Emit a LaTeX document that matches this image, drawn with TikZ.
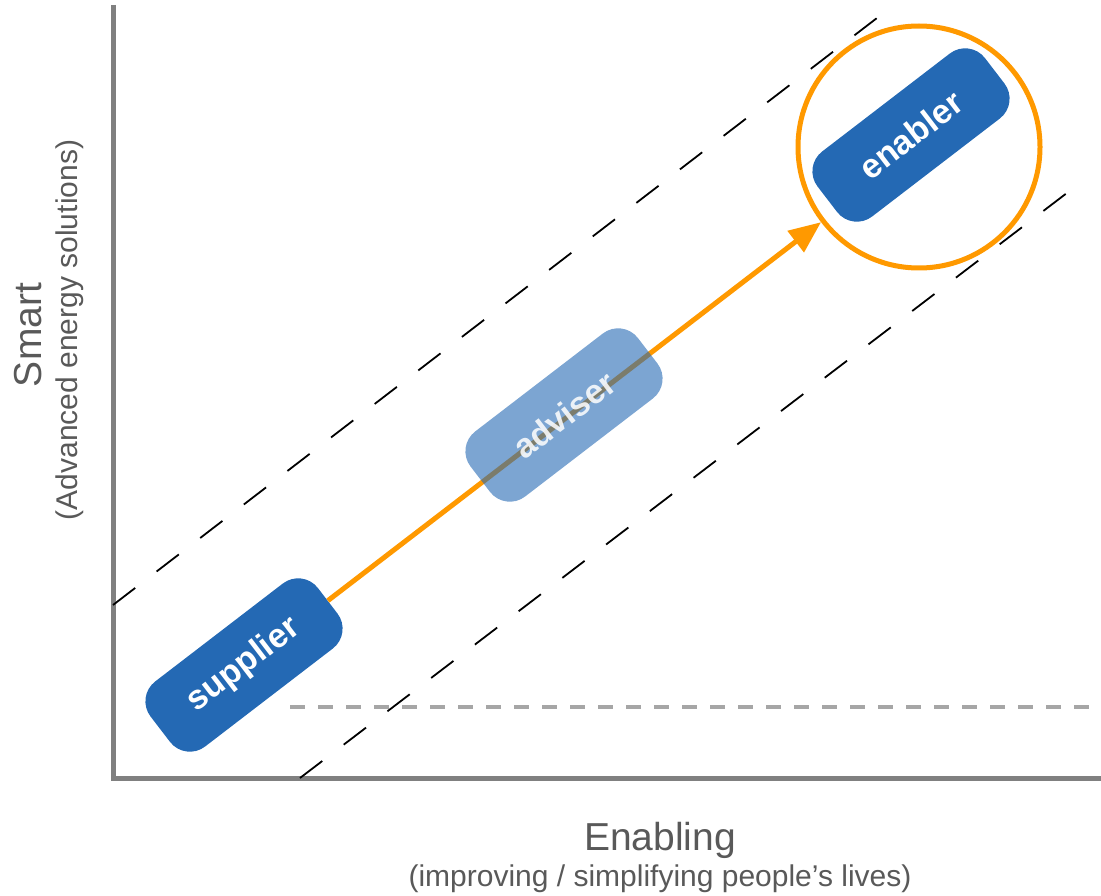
\documentclass[tikz,border=0pt]{standalone}
\usepackage{fontspec}
\setmainfont{Liberation Sans}
\usepackage{tikz}
\usetikzlibrary{arrows.meta}
\definecolor{roleblue}{RGB}{36,105,180}
\definecolor{pathorange}{RGB}{255,153,0}
\definecolor{axisgray}{RGB}{128,128,128}
\definecolor{labelgray}{RGB}{89,89,89}
\definecolor{guidegray}{RGB}{166,166,166}
\tikzset{
	role/.style={rectangle, rounded corners=25pt, fill=roleblue, text=white,
		minimum width=211pt, minimum height=82pt, rotate=37.5,
		font=\fontsize{34}{40}\selectfont\bfseries},
	axisline/.style={axisgray, line width=5pt, line join=miter},
	bandline/.style={black, line width=1.8pt, dash pattern=on 28pt off 27pt},
	floorline/.style={guidegray, line width=4.5pt, dash pattern=on 15pt off 13pt},
	axistitle/.style={text=labelgray, font=\fontsize{39}{46}\selectfont},
	axisnote/.style={text=labelgray, font=\fontsize{30}{36}\selectfont},
	flow/.style={pathorange, line width=5pt, -{Triangle[length=32pt,width=26pt]}}
}

\begin{document}
\begin{tikzpicture}[x=1pt, y=-1pt]
			\useasboundingbox (0,0) rectangle (1101,896);
			% Axes
			\draw[axisline] (113,5) -- (113,778) -- (1101,778);
			\node[axistitle, rotate=90] (smart) at (28,335) {Smart};
			\node[axisnote, rotate=90] (smartnote) at (70,330) {(Advanced energy solutions)};
			\node[axistitle] (enabling) at (660,840) {Enabling};
			\node[axisnote] (enablingnote) at (660,879) {(improving / simplifying people’s lives)};
			% Band and floor
			\draw[bandline] (113,605) -- (890,8);
			\draw[bandline] (300,778) -- (1080,183);
			\draw[floorline] (290,707) -- (1101,707);
			% Roles
			\node[role] (supplier) at (244,665) {supplier};
			\node[role] (enabler) at (911,135) {enabler};
			\node[circle, draw=pathorange, line width=5pt, minimum size=242pt] (focus) at (919,147) {};
			\draw[flow] (supplier) -- (focus);
			\node[role, fill opacity=0.6, text opacity=0.85] (adviser) at (564,415) {adviser};
\end{tikzpicture}
\end{document}
